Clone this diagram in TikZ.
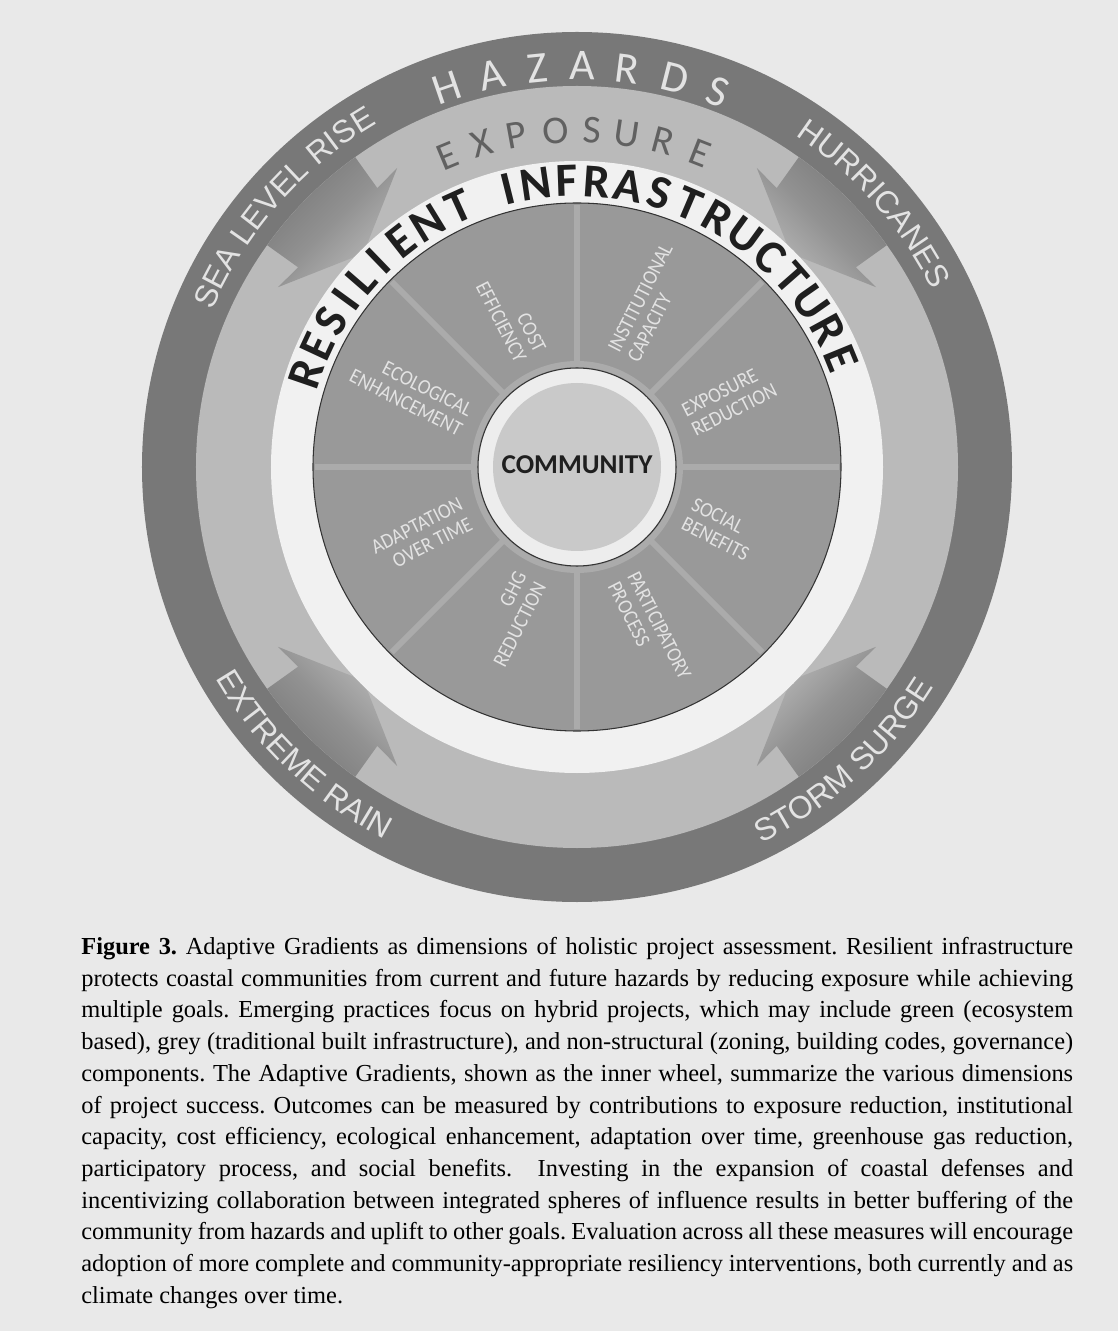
\documentclass[tikz,border=0pt]{standalone}
\usepackage{fontspec}
\setmainfont{Liberation Serif}
\newfontfamily\calfont{Carlito}
\newfontfamily\narrowfont[FakeStretch=0.9]{Carlito}
\newfontfamily\arialfont{Liberation Sans}
\usetikzlibrary{decorations.text, positioning}

\definecolor{paper}{gray}{0.915}
\definecolor{hazardgray}{gray}{0.47}
\definecolor{arrowmid}{gray}{0.57}
\definecolor{exposuregray}{gray}{0.73}
\definecolor{ringwhite}{gray}{0.945}
\definecolor{wheelgray}{gray}{0.60}
\definecolor{spokegray}{gray}{0.67}
\definecolor{labelgray}{gray}{0.89}
\definecolor{corewhite}{gray}{0.93}
\definecolor{coregray}{gray}{0.79}
\definecolor{exposuretext}{gray}{0.38}
\definecolor{rimline}{gray}{0.2}

\newcommand\hazardfont{\arialfont\fontsize{18}{18}\selectfont}

\tikzstyle{hazardletter} = [inner sep=0pt, text=labelgray, font=\calfont\fontsize{25}{25}\selectfont]
\tikzstyle{exposureletter} = [inner sep=0pt, text=exposuretext, font=\calfont\fontsize{22.5}{22.5}\selectfont]
\tikzstyle{resletter} = [inner sep=0pt, text=black!88, font=\calfont\bfseries\fontsize{27}{27}\selectfont]
\tikzstyle{hazardtext} = [decorate, decoration={text along path, text align=center, text color=labelgray}]
\tikzstyle{arrowshade} = [top color=hazardgray, bottom color=exposuregray, middle color=arrowmid]
\tikzstyle{spoke} = [draw=spokegray, line width=3.4pt]
\tikzstyle{rim} = [draw=rimline, line width=0.6pt]
\tikzstyle{wheellabel} = [inner sep=0pt, text=labelgray, font=\narrowfont\fontsize{12}{12.5}\selectfont]
\tikzstyle{outlabel} = [wheellabel, anchor=west, align=left]
\tikzstyle{inlabel} = [wheellabel, anchor=east, align=right]
\tikzstyle{core} = [inner sep=0pt, text=black!88, font=\calfont\bfseries\fontsize{15.5}{15.5}\selectfont]
\tikzstyle{caption} = [anchor=north west, inner sep=0pt, text width=19.84cm, align=justify, font=\fontsize{13.9}{18.04}\selectfont]

\begin{document}
\begin{tikzpicture}[x=0.02cm, y=0.02cm]
    \useasboundingbox (-577,-864) rectangle (541,467);
    \fill[paper] (-577,-864) rectangle (541,467);

    \fill[hazardgray] (0,0) circle[radius=435];
    \fill[exposuregray] (0,0) circle[radius=381];
    \foreach \a in {45,135,225,315} {
        \pgfmathsetmacro\sang{\a-90}
        \shade[arrowshade, shading angle=\sang]
            ({\a+9.4}:381) -- ({\a+9.4}:343) -- ({\a+14}:349) -- (\a:302)
            -- ({\a-14}:349) -- ({\a-9.4}:343) -- ({\a-9.4}:381)
            arc[start angle=\a-9.4, end angle=\a+9.4, radius=381] -- cycle;
    }
    \fill[ringwhite] (0,0) circle[radius=306];
    \filldraw[fill=wheelgray, rim] (0,0) circle[radius=264];
    \foreach \a in {0,45,...,315}
        \draw[spoke] (\a:100) -- (\a:262);
    \draw[spoke] (0,0) circle[radius=103];
    \filldraw[fill=corewhite, rim] (0,0) circle[radius=99];
    \fill[coregray] (0,0) circle[radius=84];
    \node[core] (community) at (0,2) {COMMUNITY};

    \node[outlabel, rotate=63] (institutional) at (67.5:120) {INSTITUTIONAL\\CAPACITY};
    \node[inlabel, rotate=-63] (cost) at (112.5:120) {COST\\EFFICIENCY};
    \node[inlabel, rotate=-27] (ecological) at (157.5:120) {ECOLOGICAL\\ENHANCEMENT};
    \node[outlabel, rotate=27] (exposurered) at (22.5:120) {EXPOSURE\\REDUCTION};
    \node[outlabel, rotate=-27] (social) at (-22.5:120) {SOCIAL\\BENEFITS};
    \node[outlabel, rotate=-63] (participatory) at (-67.5:120) {PARTICIPATORY\\PROCESS};
    \node[inlabel, rotate=63] (ghg) at (-112.5:120) {GHG\\REDUCTION};
    \node[inlabel, rotate=27] (adaptation) at (-157.5:120) {ADAPTATION\\OVER TIME};

    \foreach \ch/\ang [count=\i] in {H/108.9, A/102.3, Z/95.7, A/89.3, R/82.8, D/75.8, S/69.5}
        \node[hazardletter, rotate=\ang-90] (hazard\i) at (\ang:401) {\ch};
    \foreach \ch/\ang [count=\i] in {E/112.5, X/106.4, P/100.3, O/93.7, S/87.4, U/81.5, R/75.2, E/68.6}
        \node[exposureletter, rotate=\ang-90] (exposure\i) at (\ang:337) {\ch};
    \foreach \ch/\ang [count=\i] in {R/161, E/155, S/149.2, I/144, L/139, I/134, E/128, N/121.5, T/114.5,
        I/104, N/98.3, F/92, R/86, A/79.7, S/73.3, T/66.9, R/60.5, U/54, C/47.5, T/41.3, U/35, R/28.6, E/22.3}
        \node[resletter, rotate=\ang-90] (resilient\i) at (\ang:286) {\ch};

    \path[hazardtext, decoration={text={|\hazardfont|SEA LEVEL RISE}}] (166.5:397) arc[start angle=166.5, end angle=110.5, radius=397];
    \path[hazardtext, decoration={text={|\hazardfont|HURRICANES}}] (69.5:397) arc[start angle=69.5, end angle=13.5, radius=397];
    \path[hazardtext, decoration={text={|\hazardfont|EXTREME RAIN}}] (-161.5:419) arc[start angle=-161.5, end angle=-105.5, radius=419];
    \path[hazardtext, decoration={text={|\hazardfont|STORM SURGE}}] (-75.8:419) arc[start angle=-75.8, end angle=-19.8, radius=419];

    \node[caption] (caption) at (-496,-470) {\frenchspacing\hyphenpenalty=10000 \exhyphenpenalty=10000
        \textbf{Figure 3.} Adaptive Gradients as dimensions of holistic project assessment. Resilient infrastructure\linebreak
        protects coastal communities from current and future hazards by reducing exposure while achieving\linebreak
        multiple goals. Emerging practices focus on hybrid projects, which may include green (ecosystem\linebreak
        based), grey (traditional built infrastructure), and non-structural (zoning, building codes, governance)\linebreak
        components. The Adaptive Gradients, shown as the inner wheel, summarize the various dimensions\linebreak
        of project success. Outcomes can be measured by contributions to exposure reduction, institutional\linebreak
        capacity, cost efficiency, ecological enhancement, adaptation over time, greenhouse gas reduction,\linebreak
        participatory process, and social benefits. \ Investing in the expansion of coastal defenses and\linebreak
        incentivizing collaboration between integrated spheres of influence results in better buffering of the\linebreak
        community from hazards and uplift to other goals. Evaluation across all these measures will encourage\linebreak
        adoption of more complete and community-appropriate resiliency interventions, both currently and as\linebreak
        climate changes over time.};
\end{tikzpicture}
\end{document}
